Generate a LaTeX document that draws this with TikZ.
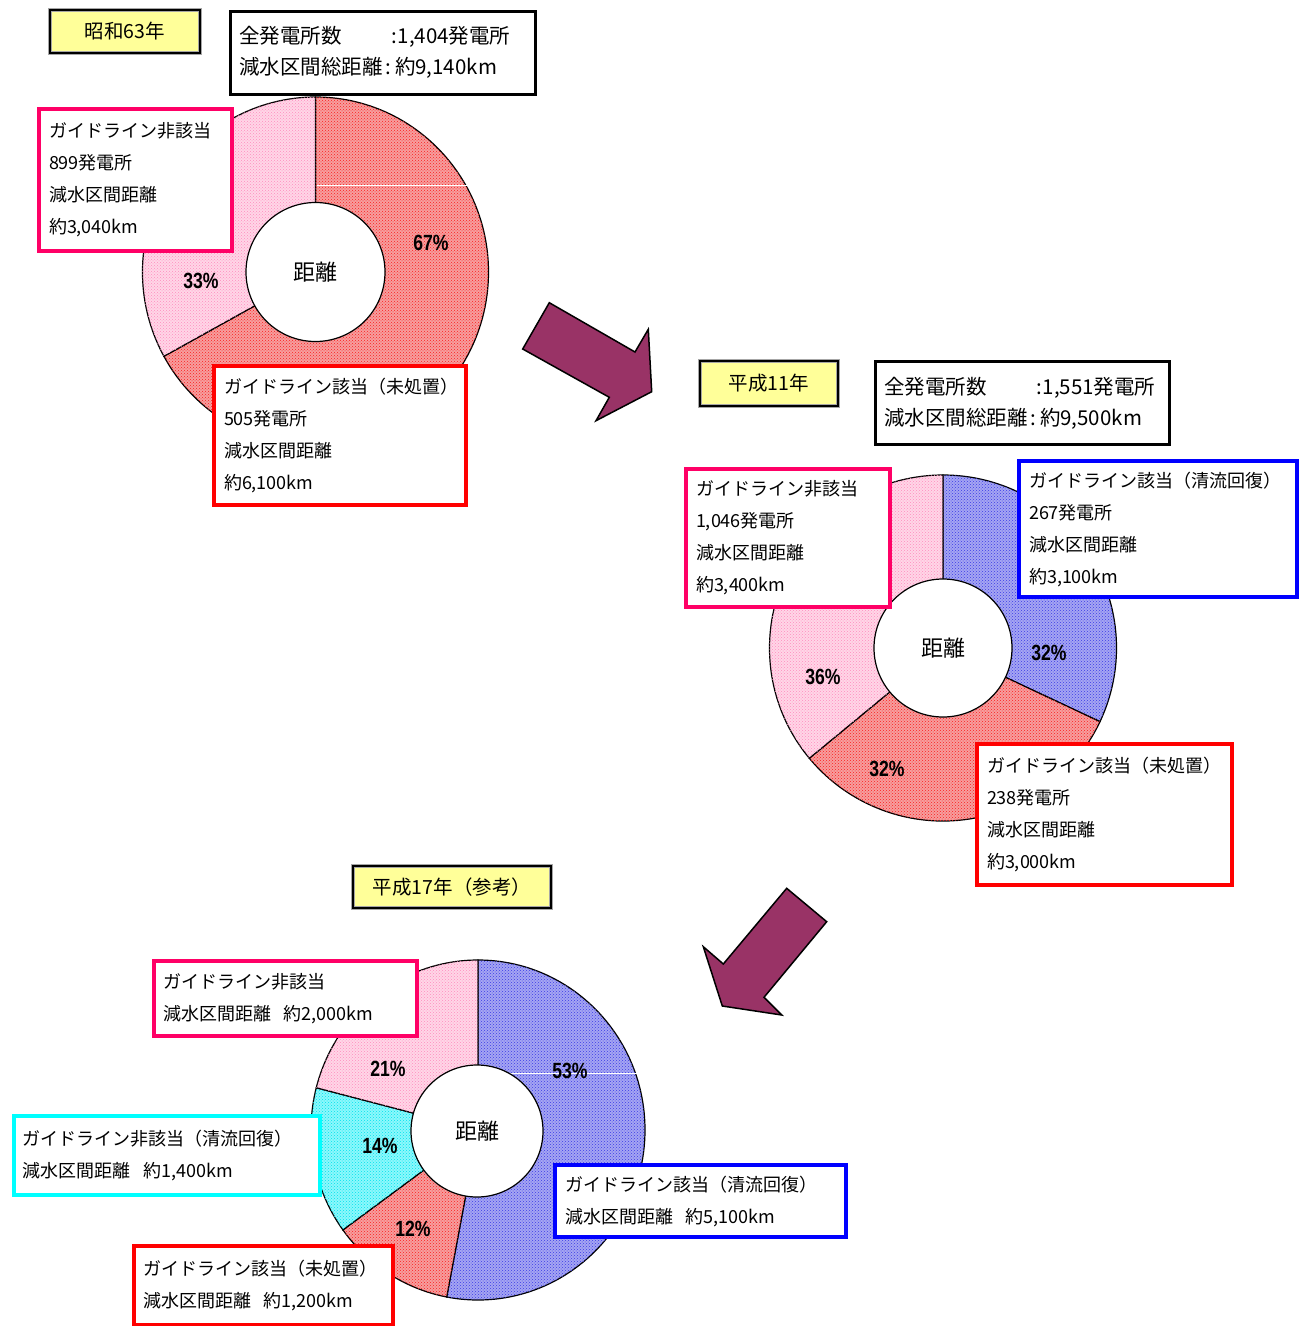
\documentclass[tikz,border=0pt]{standalone}
\usepackage{fontspec}
\newfontfamily\jp{Noto Sans CJK JP}
\newfontfamily\pctfont{Liberation Sans}
\usetikzlibrary{calc,patterns}
\definecolor{pinkb}{RGB}{255,0,102}
\definecolor{redb}{RGB}{255,0,0}
\definecolor{blueb}{RGB}{0,0,255}
\definecolor{cyanb}{RGB}{0,255,255}
\definecolor{redf}{RGB}{246,158,158}
\definecolor{redp}{RGB}{250,30,30}
\definecolor{pinkf}{RGB}{255,214,231}
\definecolor{pinkp}{RGB}{255,140,190}
\definecolor{bluef}{RGB}{165,165,242}
\definecolor{bluep}{RGB}{60,60,230}
\definecolor{cyanf}{RGB}{140,248,252}
\definecolor{cyanp}{RGB}{0,225,235}
\definecolor{arrowc}{RGB}{153,51,102}
\definecolor{ttl}{RGB}{255,255,153}
\newcommand\dseg[7]{\filldraw[fill=#6,draw=black,line width=1.2pt,
  postaction={pattern=crosshatch dots, pattern color=#7}]
  (#1) -- ++(#4:#2 and #3) arc[start angle=#4,end angle=#5,x radius=#2,y radius=#3] -- cycle;}
\tikzset{
  lbox/.style={draw=#1, line width=4pt, fill=white, anchor=north west, align=left,
    inner xsep=10pt, inner ysep=0pt, font=\jp\fontsize{18}{32}\selectfont},
  kbox/.style={draw=black, line width=3pt, fill=white, anchor=north west, align=left,
    inner xsep=9pt, inner ysep=0pt, font=\jp\fontsize{20.5}{31}\selectfont},
  ttlbox/.style={fill=ttl, draw=gray!70, double=black, line width=0.9pt, double distance=1.6pt,
    inner sep=0pt, font=\jp\fontsize{19.5}{19.5}\selectfont},
  hole/.style={circle, draw=black, fill=white, line width=1.2pt, inner sep=0pt,
    font=\jp\fontsize{22}{22}\selectfont},
  pct/.style={font=\pctfont\bfseries\fontsize{22}{22}\selectfont, inner sep=0pt},
  bigarrow/.style={fill=arrowc, draw=black, line width=1.5pt, line join=miter},
}
\newcommand\lab[1]{\makebox[153pt][l]{#1}}
\newcommand\pc[1]{\scalebox{0.8}[1]{#1}}
\begin{document}
\begin{tikzpicture}[x=1pt,y=-1pt]
\useasboundingbox[fill=white] (0,0) rectangle (1311,1326);

% ---------- chart 1 : 昭和63年 ----------
\coordinate (c1) at (315.5,272);
\dseg{c1}{173}{175}{-90}{151.2}{redf}{redp}
\dseg{c1}{173}{175}{151.2}{270}{pinkf}{pinkp}
\draw[white, line width=1pt] (317,185) -- (484,185);
\node[hole, minimum size=139pt] (h1) at (c1) {距離};
\node[pct] (q1a) at (431,243) {\pc{67\%}};
\node[pct] (q1b) at (201,281) {\pc{33\%}};
\node[ttlbox, minimum width=150pt, minimum height=43pt] (t1) at (125,31.5) {昭和63年};
\node[kbox, text width=287pt, minimum height=83pt] (k1) at (228.5,9.5)
  {\lab{全発電所数}:1,404発電所\\減水区間総距離\,:\,約9,140km};
\node[lbox=pinkb, text width=173pt, minimum height=142pt] (p1) at (37,107)
  {ガイドライン非該当\\899発電所\\減水区間距離\\約3,040km};
\node[lbox=redb, text width=232pt, minimum height=139pt] (r1) at (212,364)
  {ガイドライン該当（未処置）\\505発電所\\減水区間距離\\約6,100km};

% arrow 1
\draw[bigarrow] (549.3,302.7) -- (522.7,349) -- (609.3,397.3) -- (596,420.7)
  -- (651.7,391.7) -- (648.3,329.3) -- (635,352) -- cycle;

% ---------- chart 2 : 平成11年 ----------
\coordinate (c2) at (943,648);
\dseg{c2}{173.5}{173}{-90}{25.2}{bluef}{bluep}
\dseg{c2}{173.5}{173}{25.2}{140.4}{redf}{redp}
\dseg{c2}{173.5}{173}{140.4}{270}{pinkf}{pinkp}
\node[hole, minimum size=138pt] (h2) at (c2) {距離};
\node[pct] (q2a) at (1049,653) {\pc{32\%}};
\node[pct] (q2b) at (823,677) {\pc{36\%}};
\node[pct] (q2c) at (887,769) {\pc{32\%}};
\node[ttlbox, minimum width=138pt, minimum height=45pt] (t2) at (769,383.5) {平成11年};
\node[kbox, text width=276pt, minimum height=83pt] (k2) at (873.5,360)
  {\lab{全発電所数}:1,551発電所\\減水区間総距離\,:\,約9,500km};
\node[lbox=pinkb, text width=184pt, minimum height=138pt] (p2) at (684,467)
  {ガイドライン非該当\\1,046発電所\\減水区間距離\\約3,400km};
\node[lbox=blueb, text width=258pt, minimum height=136pt] (b2) at (1017,459)
  {ガイドライン該当（清流回復）\\267発電所\\減水区間距離\\約3,100km};
\node[lbox=redb, text width=235pt, minimum height=141pt] (r2) at (975,742)
  {ガイドライン該当（未処置）\\238発電所\\減水区間距離\\約3,000km};

% arrow 2
\draw[bigarrow] (786.7,888.3) -- (826.7,921.7) -- (764,997.3) -- (781.7,1015)
  -- (722.3,1006) -- (703.3,946.7) -- (723.3,964) -- cycle;

% ---------- chart 3 : 平成17年（参考） ----------
\coordinate (c3) at (478,1130);
\dseg{c3}{167}{170}{-90}{100.8}{bluef}{bluep}
\dseg{c3}{167}{170}{100.8}{144}{redf}{redp}
\dseg{c3}{167}{170}{144}{194.4}{cyanf}{cyanp}
\dseg{c3}{167}{170}{194.4}{270}{pinkf}{pinkp}
\draw[white, line width=1pt] (479,1073) -- (642,1073);
\node[hole, minimum size=132pt] (h3) at (477,1131) {距離};
\node[pct] (q3a) at (570,1071) {\pc{53\%}};
\node[pct] (q3b) at (388,1069) {\pc{21\%}};
\node[pct] (q3c) at (380,1146) {\pc{14\%}};
\node[pct] (q3d) at (413,1229) {\pc{12\%}};
\node[ttlbox, minimum width=198pt, minimum height=42pt] (t3) at (452,887) {平成17年（参考）};
\node[lbox=pinkb, text width=245pt, minimum height=75pt, inner xsep=9pt] (p3) at (152,959)
  {ガイドライン非該当\\減水区間距離\hspace{0.7em}約2,000km};
\node[lbox=cyanb, text width=288pt, minimum height=79pt, inner xsep=9pt] (cy3) at (12,1114)
  {ガイドライン非該当（清流回復）\\減水区間距離\hspace{0.7em}約1,400km};
\node[lbox=blueb, text width=271pt, minimum height=72pt] (b3) at (553,1163)
  {ガイドライン該当（清流回復）\\減水区間距離\hspace{0.7em}約5,100km};
\node[lbox=redb, text width=241pt, minimum height=79pt, inner xsep=9pt] (r3) at (132,1244)
  {ガイドライン該当（未処置）\\減水区間距離\hspace{0.7em}約1,200km};
\end{tikzpicture}
\end{document}
